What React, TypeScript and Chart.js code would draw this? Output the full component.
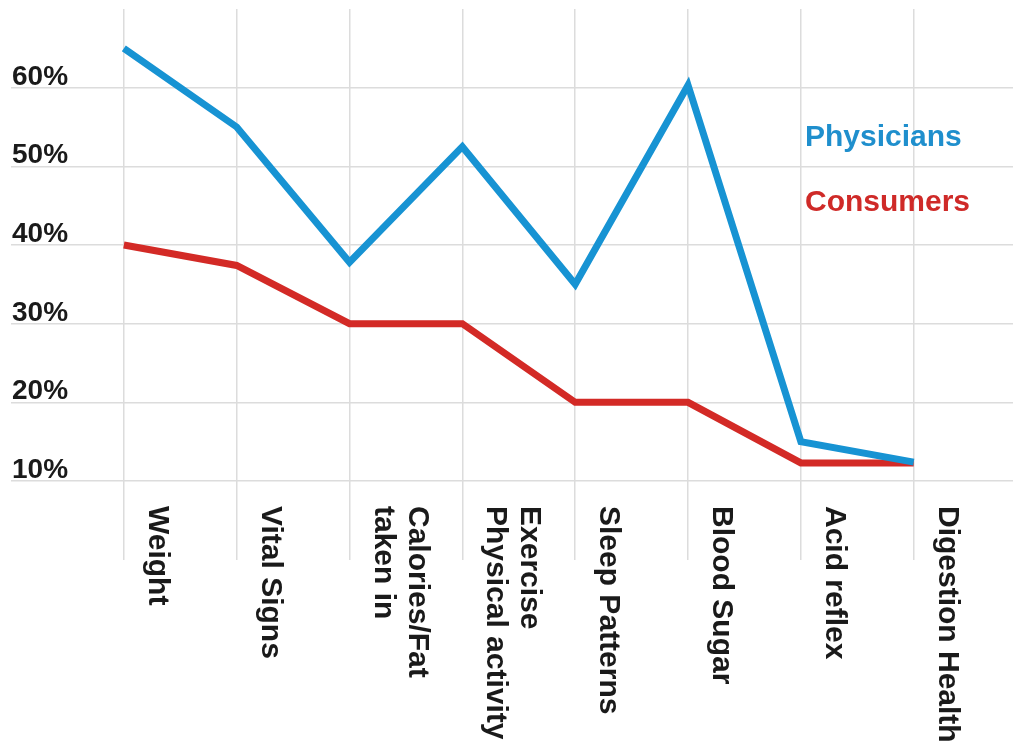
import React, { useEffect, useRef } from "react";
import { Chart, registerables } from "chart.js";

Chart.register(...registerables);

const categories: string[] = [
  "Weight",
  "Vital Signs",
  "Calories/Fat\ntaken in",
  "Exercise\nPhysical activity",
  "Sleep Patterns",
  "Blood Sugar",
  "Acid reflex",
  "Digestion Health",
];

const physicians: number[] = [65, 55, 37.8, 52.5, 35, 60.3, 15, 12.4];
const consumers: number[] = [40, 37.4, 30, 30, 20, 20, 12.3, 12.3];

const yTickValues: number[] = [10, 20, 30, 40, 50, 60];
const seriesNames: string[] = ["Physicians", "Consumers"];

const BLUE = "#1793d3";
const RED = "#d32a26";
const BLUE_TEXT = "#1f8fcd";
const RED_TEXT = "#cf2a28";
const GRID = "#dcdcdc";
const FONT = "'Liberation Sans', Arial, Helvetica, sans-serif";

const labelPlugin = {
  id: "customLabels",
  afterDraw(chart: any) {
    const { ctx, chartArea, scales } = chart;
    const xs = scales.x;
    const ys = scales.y;
    ctx.save();
    ctx.fillStyle = "#1a1a1a";
    ctx.font = `bold 28px ${FONT}`;
    ctx.textAlign = "left";
    ctx.textBaseline = "alphabetic";
    yTickValues.forEach((v) => {
      const y = ys.getPixelForValue(v);
      ctx.fillText(`${v}%`, chartArea.left + 1, y - 3);
    });
    ctx.font = `bold 30px ${FONT}`;
    categories.forEach((label, i) => {
      const lines = label.split("\n");
      const n = lines.length;
      const x = xs.getPixelForValue(i);
      ctx.save();
      ctx.translate(x + 25, chartArea.bottom + 25);
      ctx.rotate(Math.PI / 2);
      lines.forEach((line, j) => {
        ctx.fillText(line, 0, -(n - 1 - j) * 34);
      });
      ctx.restore();
    });
    ctx.font = `bold 30px ${FONT}`;
    ctx.fillStyle = BLUE_TEXT;
    ctx.fillText(seriesNames[0], chartArea.left + 794, chartArea.top + 137);
    ctx.fillStyle = RED_TEXT;
    ctx.fillText(seriesNames[1], chartArea.left + 794, chartArea.top + 202);
    ctx.restore();
  },
};

export default function App() {
  const ref = useRef<HTMLCanvasElement | null>(null);

  useEffect(() => {
    if (!ref.current) return;
    const chart = new Chart(ref.current, {
      type: "line",
      data: {
        datasets: [
          {
            label: seriesNames[0],
            data: physicians.map((v, i) => ({ x: i, y: v })),
            borderColor: BLUE,
            backgroundColor: BLUE,
            borderWidth: 7,
            pointRadius: 0,
            tension: 0,
            fill: false,
          },
          {
            label: seriesNames[1],
            data: consumers.map((v, i) => ({ x: i, y: v })),
            borderColor: RED,
            backgroundColor: RED,
            borderWidth: 7,
            pointRadius: 0,
            tension: 0,
            fill: false,
          },
        ],
      },
      options: {
        responsive: false,
        animation: false,
        devicePixelRatio: 1,
        layout: { padding: { left: 11, top: 9, right: 0, bottom: 186 } },
        plugins: {
          legend: { display: false },
          tooltip: { enabled: false },
        },
        scales: {
          x: {
            type: "linear",
            min: -1,
            max: 7.88,
            afterBuildTicks: (scale: any) => {
              scale.ticks = categories.map((_, i) => ({ value: i }));
            },
            ticks: { display: false },
            grid: {
              color: GRID,
              lineWidth: 1.5,
              drawTicks: true,
              tickLength: 79,
            },
            border: { display: false },
          },
          y: {
            type: "linear",
            min: 10,
            max: 70,
            ticks: { display: false, stepSize: 10 },
            grid: {
              color: (c: any) => (c.tick && c.tick.value === 70 ? "rgba(0,0,0,0)" : GRID),
              lineWidth: 1.5,
              drawTicks: false,
            },
            border: { display: false },
          },
        },
      },
      plugins: [labelPlugin],
    } as any);
    return () => chart.destroy();
  }, []);

  return (
    <div style={{ position: "fixed", left: 0, top: 0, width: 1013, height: 746, background: "#fff" }}>
      <canvas ref={ref} width={1013} height={746} style={{ display: "block" }} />
    </div>
  );
}
